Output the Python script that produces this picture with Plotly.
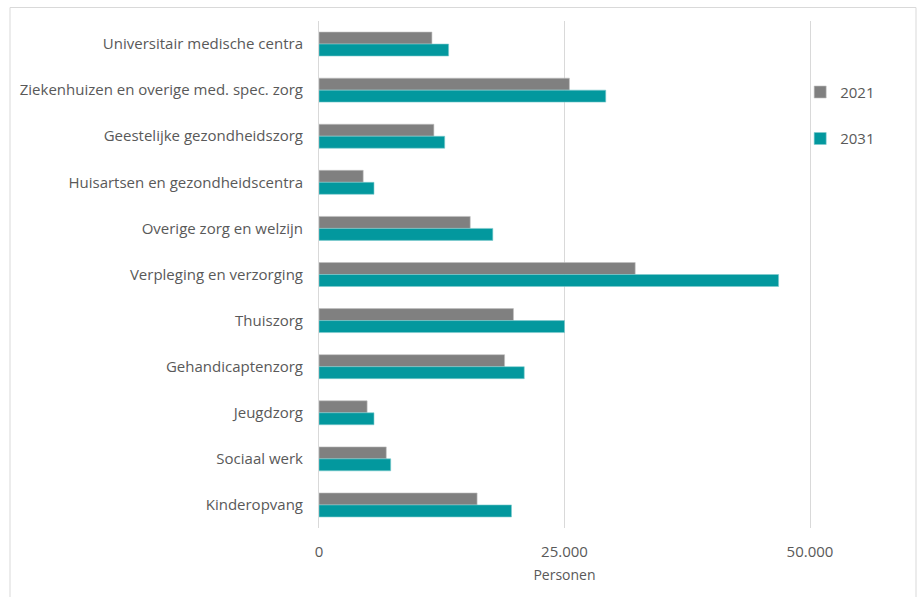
import plotly.graph_objects as go

# Sectors in the care and welfare domain, top to bottom
sectors = [
    "Universitair medische centra",
    "Ziekenhuizen en overige med. spec. zorg",
    "Geestelijke gezondheidszorg",
    "Huisartsen en gezondheidscentra",
    "Overige zorg en welzijn",
    "Verpleging en verzorging",
    "Thuiszorg",
    "Gehandicaptenzorg",
    "Jeugdzorg",
    "Sociaal werk",
    "Kinderopvang",
]

# Number of persons per sector
persons_2021 = [11500, 25500, 11700, 4500, 15400, 32200, 19800, 18900, 4900, 6850, 16100]
persons_2031 = [13200, 29200, 12800, 5600, 17700, 46800, 25000, 20900, 5600, 7300, 19600]

x_ticks = [0, 25000, 50000]
x_tick_labels = ["0", "25.000", "50.000"]

GREY = "#808080"
TEAL = "#03989E"
TEXT = "#595959"
GRID = "#D9D9D9"
FONT = "Open Sans"

fig = go.Figure()
fig.add_trace(go.Bar(
    name="2021", y=sectors, x=persons_2021, orientation="h",
    marker=dict(color=GREY, line=dict(color="#BFBFBF", width=0.6)),
    legendgroup="a",
))
fig.add_trace(go.Bar(
    name="2031", y=sectors, x=persons_2031, orientation="h",
    marker=dict(color=TEAL, line=dict(color="#7FCBCE", width=0.6)),
    legendgroup="b",
))

fig.update_layout(
    width=920, height=597,
    margin=dict(l=319, r=110, t=21, b=69),
    paper_bgcolor="white", plot_bgcolor="white",
    font=dict(family=FONT, size=15, color=TEXT),
    barmode="group", bargap=0.48, bargroupgap=0,
    showlegend=True,
    legend=dict(
        x=0.98, xanchor="left", y=0.892, yanchor="top",
        font=dict(size=15, color=TEXT),
        traceorder="grouped", tracegroupgap=24,
        itemwidth=30, bgcolor="rgba(0,0,0,0)",
    ),
    xaxis=dict(
        range=[0, 50000], tickvals=x_ticks, ticktext=x_tick_labels,
        showgrid=True, gridcolor=GRID, gridwidth=1,
        zeroline=False, showline=False, ticks="",
        ticklabelstandoff=13,
        title=dict(text="Personen", font=dict(size=14, color=TEXT), standoff=10),
        fixedrange=True,
    ),
    yaxis=dict(
        autorange="reversed", showgrid=False, zeroline=False,
        showline=True, mirror=True, linecolor=GRID, linewidth=1,
        ticks="", ticklabelstandoff=12, fixedrange=True,
    ),
    shapes=[dict(
        type="rect", xref="paper", yref="paper",
        x0=-309 / 491, x1=(916 - 319) / 491,
        y0=-75 / 507, y1=(528 - 7.5) / 507,
        line=dict(color=GRID, width=1), layer="below",
    )],
)

fig.write_html("out.html")
